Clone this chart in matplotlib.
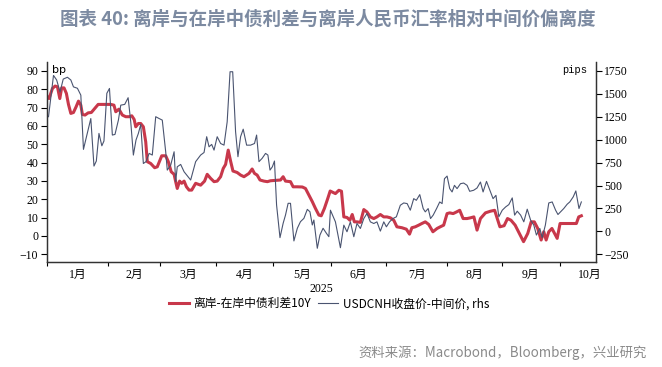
import numpy as np
import matplotlib
matplotlib.use('Agg')
import matplotlib.pyplot as plt

plt.rcParams['font.family'] = ['Liberation Serif', 'Noto Sans CJK SC']

# x = business days since 2025-01-01
spread_x = [0, 0.6, 1.9, 2.9, 3.8, 4.7, 5.4, 6.3, 7.2, 8, 8.9, 9.9, 10.9, 11.8, 12.7,
            13.3, 14.3, 15.5, 16.7, 18, 19.3, 21.5, 24.1, 25.3, 26, 27.2, 28.5, 29.8,
            31.1, 32.1, 33, 33.6, 34.6, 35.5, 36.5, 37.4, 38, 39.3, 40.8, 41.8, 43.5,
            45, 46, 47.1, 48.2, 48.8, 49.4, 50.3, 51.1, 52, 52.9, 53.9, 54.9, 56.4,
            58.3, 59.8, 60.8, 62.1, 63.4, 64.6, 65.9, 66.9, 67.8, 68.8, 69.7, 70.6,
            72.2, 73.5, 74.8, 76.7, 77.9, 78.8, 79.8, 80.9, 82.4, 83.7, 84.9, 86.8,
            88.7, 89.7, 90.6, 92.5, 93.5, 95.1, 97, 98.2, 99.5, 100.8, 102, 103.3,
            104.2, 105.4, 106.7, 107.6, 109.6, 110.9, 111.9, 112.8, 114, 115.1, 116,
            116.8, 117.8, 119.1, 120.4, 121.6, 122.9, 124.2, 125.4, 126.7, 128, 129.2,
            130.5, 131.8, 133, 134.9, 136.6, 137.8, 138.7, 140, 141.3, 142.5, 143.8,
            145.1, 146.7, 148.3, 149.5, 150.8, 152.1, 153.1, 154.4, 155.7, 156.9,
            158.2, 159.7, 161, 162.3, 163.5, 164.8, 166.7, 168.6, 170.2, 171.2, 172.2,
            173.8, 175.1, 176.4, 178, 179.6, 181.2, 182.8, 184.1, 185.3, 186.6, 187.9,
            188.9, 189.8, 190.8, 192, 193, 194, 195.1, 196.8, 199.4, 201.3, 202.2, 203.2]
spread_bp = [75.8, 74.9, 80.4, 81.7, 81.3, 74.9, 80.7, 80.7, 77.7, 71.7, 66.8, 67.3,
             70.4, 73.5, 71.3, 66.2, 65.9, 67.1, 67.3, 69.5, 71.7, 71.7, 71.7, 71.3,
             67.7, 69.1, 65.9, 65, 65, 65.5, 63.5, 59.5, 61.3, 61.3, 59.5, 51.3, 40.5,
             39.5, 37.2, 37.7, 43.7, 43.7, 40.5, 35, 33.6, 29.6, 25.9, 29.9, 28.7, 29.9,
             26.8, 25, 25, 28.7, 27.7, 29.9, 33.6, 31.4, 29.6, 29.9, 32.3, 36.8, 39,
             46.8, 40.8, 35.4, 34.6, 33.2, 32.3, 34.1, 36.5, 34.1, 33.2, 30.5, 29.9,
             29.6, 30.1, 30.3, 30.5, 32.3, 29.9, 29.6, 26.8, 26.8, 26.7, 25.9, 22.3,
             18.7, 15, 11.4, 11, 15, 20.5, 24.5, 23.1, 24.9, 24.4, 10.4, 10.1, 8.6,
             11.7, 7.7, 7.7, 7.4, 14.4, 13.1, 10.4, 9.5, 10.4, 11.7, 10.4, 10.4, 9.9,
             8.6, 5, 4.5, 3.7, 1, 4.5, 5, 5.9, 6.8, 7.7, 6.3, 2.3, 4.1, 5, 5.9, 12.2,
             12.6, 12.2, 13.1, 14, 9.5, 9.5, 9.9, 10.4, 3.2, 9.5, 12.6, 13.5, 14, 9.5,
             5, 5.6, 9.5, 8.6, 5.9, 1.4, -3.1, 1.4, 7.7, 7.7, 4.1, -2.2, 2.3, -2.2, 2.3,
             4.1, 1.4, -1.3, 6.8, 6.8, 6.8, 6.8, 10.4, 11]

cnh_x = [0.4, 2.3, 3.5, 4.8, 6, 7.6, 8.9, 9.9, 11.4, 12.7, 13.7, 15, 16.5, 17.7, 18.6,
         19.6, 20.7, 21.5, 22.6, 23.6, 24.7, 25.7, 27, 27.9, 29.4, 30.7, 31.7, 32.7,
         33.7, 34.6, 35.5, 36.5, 37.5, 38.7, 39.9, 41.2, 42.5, 43.7, 45, 45.6, 46.9,
         48.2, 48.8, 49.4, 50.7, 52, 54.5, 56.4, 58.3, 59.6, 60.6, 61.5, 62.5, 63.4,
         64.6, 65.9, 67.2, 68.4, 69.5, 70.5, 71.6, 72.5, 73.5, 74.5, 75.8, 77.3, 78.8,
         79.6, 80.5, 81.7, 83, 83.9, 84.7, 85.6, 86.4, 87.2, 88.5, 89.7, 90.6, 91.6,
         92.5, 93.8, 95.1, 96.3, 97.6, 98.9, 99.9, 100.8, 101.4, 102.7, 103.7, 104.9,
         106.2, 107.1, 107.7, 109.6, 111.5, 112.8, 114, 115.3, 116.6, 117.8, 119.1,
         120.4, 121.6, 122.9, 124.2, 125.4, 126.7, 128, 129, 130.2, 131.5, 132.8,
         134.3, 135.6, 136.9, 138.1, 139.4, 140.4, 141.7, 143, 143.8, 144.9, 145.8,
         146.8, 148.1, 149.3, 150.2, 151.1, 152.1, 153.1, 154, 154.9, 155.9, 157.2,
         158.4, 159.7, 160.7, 162.2, 163.5, 164.8, 165.8, 167.1, 168.3, 169.6, 170.7,
         171.8, 173.1, 174.4, 175.6, 176.9, 177.8, 178.8, 180.1, 181.3, 182.6, 183.9,
         185.1, 186.1, 187.4, 188.3, 189.5, 190.8, 192.1, 193.4, 194.3, 195.3, 196.5,
         197.8, 198.8, 200.1, 201.1, 202.3, 203.2]
cnh_pips = [1250, 1700, 1650, 1520, 1660, 1680, 1650, 1575, 1560, 1485, 894, 1050,
            1230, 712, 767, 1068, 933, 985, 1505, 1558, 1050, 1057, 1213, 1376, 1384,
            1457, 1194, 832, 996, 1068, 1166, 740, 760, 850, 832, 1250, 1230, 1213,
            868, 668, 722, 868, 542, 704, 730, 650, 560, 760, 832, 860, 1032, 922, 948,
            886, 1032, 958, 940, 1194, 1740, 1740, 1086, 814, 1032, 1114, 940, 940,
            958, 1050, 760, 796, 850, 832, 668, 704, 767, 288, -68, 88, 178, 306, 306,
            -104, 34, 106, 142, 240, 214, 70, 124, -184, -40, 34, -22, -58, 231, 104,
            -178, 68, -4, 104, -58, 86, 32, 140, 195, 104, 86, 104, 3, 104, 50, 104,
            140, 159, 285, 310, 303, 231, 357, 339, 401, 249, 213, 249, 140, 177, 249,
            321, 303, 574, 603, 466, 430, 502, 466, 520, 527, 502, 437, 448, 473, 538,
            430, 545, 455, 357, 393, 159, 231, 267, 292, 365, 177, 220, 177, 104, 242,
            122, 68, -40, 32, -69, 68, 310, 321, 231, 184, 213, 249, 296, 321, 376,
            441, 249, 321]

month_starts = ['2025-%02d-01' % m for m in range(1, 12)]
month_names = ['%d月' % m for m in range(1, 11)]

red = '#c8384b'
navy = '#4a5470'

fig = plt.figure(figsize=(6.62, 3.67), dpi=100)
ax = fig.add_axes([0.0705, 0.287, 0.8295, 0.543])
ax2 = ax.twinx()

l1, = ax.plot(spread_x, spread_bp, color=red, lw=2.2, solid_joinstyle='round')
l2, = ax2.plot(cnh_x, cnh_pips, color=navy, lw=0.8)

ax.set_ylim(-14, 94.6)
ax2.set_ylim(-330, 1842)
ax.set_yticks(np.arange(-10, 91, 10))
ax2.set_yticks(np.arange(-250, 1751, 250))

# business-day positions of month boundaries / middles
pos = [np.busday_count('2025-01-01', d) for d in month_starts]
mids = [(pos[i] + pos[i + 1]) / 2 for i in range(10)]
ax.set_xlim(-0.3, 208.7)
ax.set_xticks(pos[:10])
ax.set_xticklabels([])
ax.set_xticks(mids, minor=True)
ax.set_xticklabels(month_names, minor=True)
ax.tick_params(axis='x', which='minor', length=0, pad=5, labelsize=8.5)
ax.tick_params(axis='x', which='major', length=3, direction='out')
ax.set_xlabel('2025', fontsize=8.5, labelpad=2)

ax.tick_params(axis='y', labelsize=8.5, length=4, direction='out', pad=2)
ax2.tick_params(axis='y', labelsize=8.5, length=4, direction='out', pad=2)

for a in (ax, ax2):
    a.spines['top'].set_visible(False)
    for s in a.spines.values():
        s.set_color('#333333')
        s.set_linewidth(0.9)

ax.text(0.01, 0.985, 'bp', transform=ax.transAxes, fontsize=8,
        family='DejaVu Sans', va='top', ha='left')
ax2.text(0.985, 0.985, 'pips', transform=ax2.transAxes, fontsize=7.5,
         family='Liberation Mono', va='top', ha='right')

fig.legend([l1, l2], ['离岸-在岸中债利差10Y', 'USDCNH收盘价-中间价, rhs'],
           loc='center', bbox_to_anchor=(0.497, 0.172), ncol=2, frameon=False,
           prop={'family': ['Noto Sans CJK SC'], 'size': 8.5},
           handlelength=1.7, handletextpad=0.4, columnspacing=0.6)

fig.text(0.495, 0.948, '图表 40: 离岸与在岸中债利差与离岸人民币汇率相对中间价偏离度',
         ha='center', va='center', fontsize=13.3, fontweight='bold',
         color='#7c8aa1', family=['Noto Sans CJK SC'])
fig.text(0.977, 0.04, '资料来源：Macrobond，Bloomberg，兴业研究', ha='right',
         va='center', fontsize=9.6, color='#8a8a8a', family=['Noto Sans CJK SC'])

fig.savefig('out.png', dpi=100)
